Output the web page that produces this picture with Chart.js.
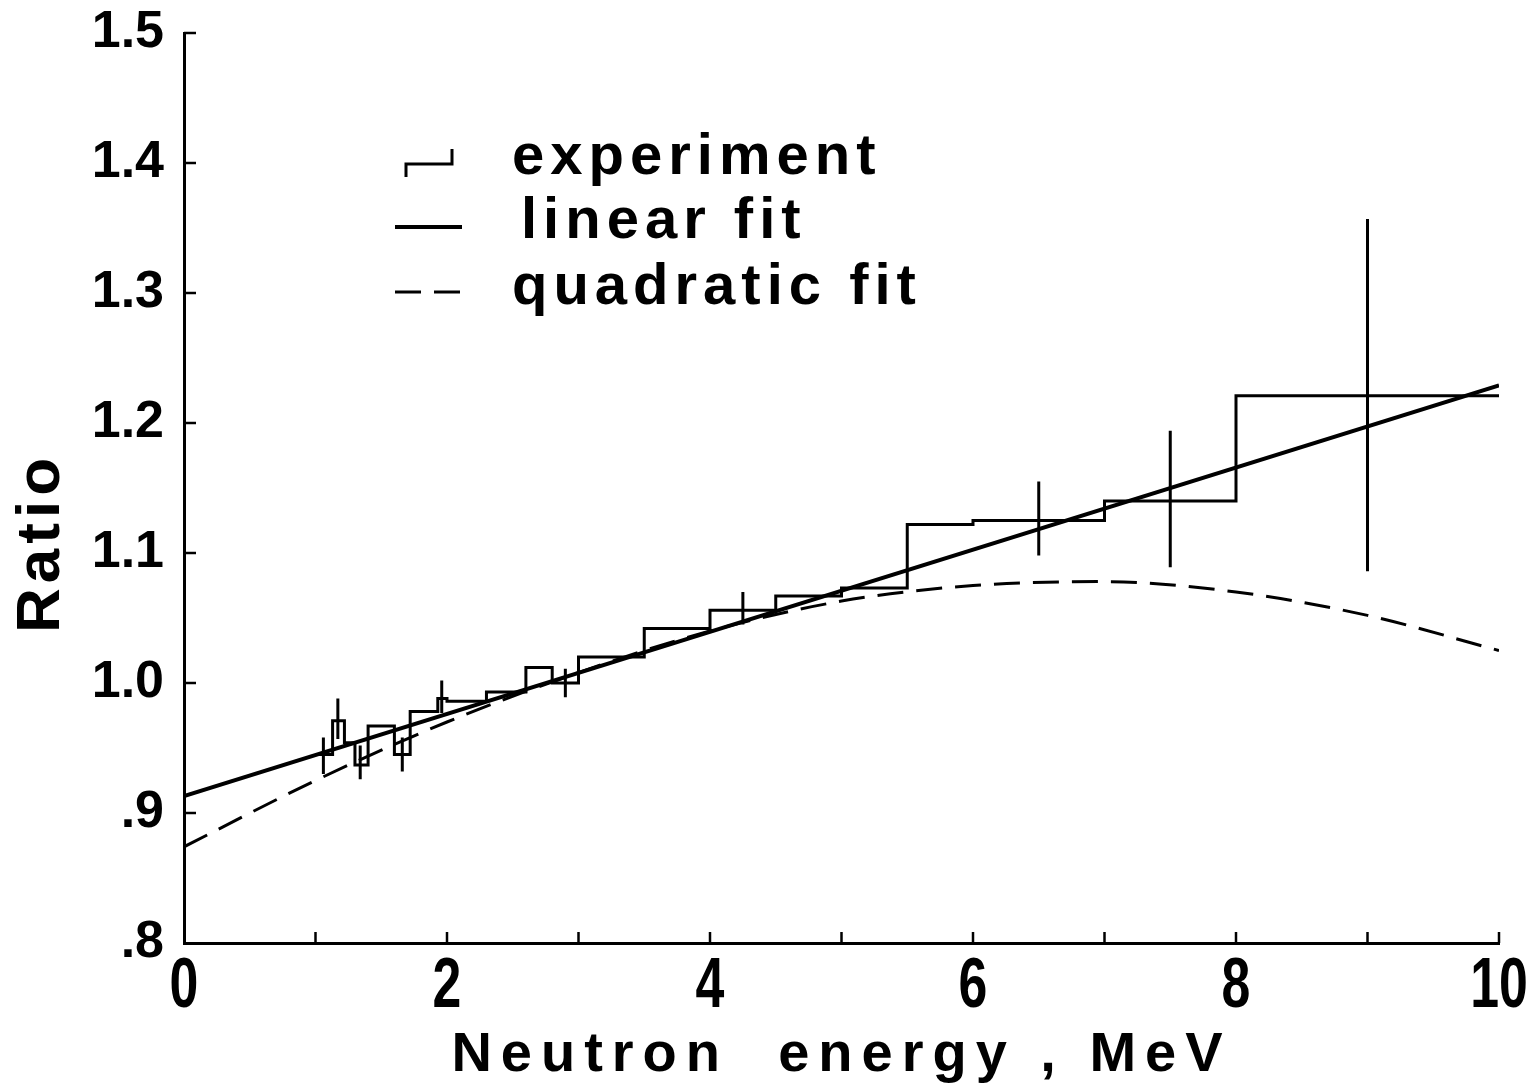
<!DOCTYPE html>
<html>
<head>
<meta charset="utf-8">
<title>Ratio vs neutron energy</title>
<script src="https://cdn.jsdelivr.net/npm/chart.js@4"></script>
<style>
  body { margin: 0; background: #fff; }
  #wrap { width: 1538px; height: 1089px; }
</style>
</head>
<body>
<div id="wrap"><canvas id="ratioChart" width="1538" height="1089"></canvas></div>
<script>
// experiment histogram: bin edges (MeV) and ratio in each bin
const binEdges = [1.0, 1.13, 1.22, 1.30, 1.40, 1.60, 1.72, 1.93, 2.0, 2.3, 2.6, 2.8, 3.0, 3.5, 4.0, 4.5, 5.0, 5.5, 6.0, 7.0, 8.0, 10.0];
const binValues = [0.945, 0.971, 0.954, 0.937, 0.967, 0.945, 0.978, 0.988, 0.986, 0.993, 1.012, 1.000, 1.020, 1.042, 1.056, 1.067, 1.073, 1.122, 1.125, 1.140, 1.221];

// error bars on the experiment
const errEnergy = [1.06, 1.17, 1.34, 1.66, 1.96, 2.9, 4.25, 6.5, 7.5, 9.0];
const errLow = [0.930, 0.957, 0.926, 0.932, 0.977, 0.989, 1.045, 1.098, 1.089, 1.086];
const errHigh = [0.958, 0.988, 0.952, 0.958, 1.002, 1.011, 1.070, 1.155, 1.194, 1.357];

// fits
const linearE = [0, 10];
const linearR = [0.913, 1.229];
const quadE = [0, 1, 2, 3, 4, 5, 6, 7, 8, 9, 10];
const quadR = [0.874, 0.925, 0.970, 1.008, 1.040, 1.063, 1.075, 1.078, 1.070, 1.052, 1.025];

// axis ticks
const xTicks = [0, 2, 4, 6, 8, 10];
const yTickLabels = ['.8', '.9', '1.0', '1.1', '1.2', '1.3', '1.4', '1.5'];

const boldFont = '"Liberation Sans", Arial, Helvetica, sans-serif';

// histogram points, last value repeated at the right edge
const histData = binEdges.map((e, i) => ({ x: e, y: binValues[Math.min(i, binValues.length - 1)] }));

const errData = [];
errEnergy.forEach((e, i) => {
    errData.push({ x: e, y: errLow[i] });
    errData.push({ x: e, y: errHigh[i] });
    errData.push({ x: e, y: null });
});

const linearData = linearE.map((e, i) => ({ x: e, y: linearR[i] }));
const quadData = quadE.map((e, i) => ({ x: e, y: quadR[i] }));

// inward tick marks, narrow x labels, axis titles and the legend box
const decorations = {
    id: 'decorations',
    afterDraw(chart) {
        const ctx = chart.ctx;
        const xs = chart.scales.x;
        const ys = chart.scales.y;
        const area = chart.chartArea;
        ctx.save();
        ctx.strokeStyle = '#000';
        ctx.lineWidth = 2.5;
        for (let v = 1; v <= 10; v++) {
            const px = xs.getPixelForValue(v);
            ctx.beginPath();
            ctx.moveTo(px, area.bottom);
            ctx.lineTo(px, area.bottom - 11);
            ctx.stroke();
        }
        for (let i = 1; i < yTickLabels.length; i++) {
            const py = ys.getPixelForValue(0.8 + i * 0.1);
            ctx.beginPath();
            ctx.moveTo(area.left, py);
            ctx.lineTo(area.left + 12, py);
            ctx.stroke();
        }

        ctx.fillStyle = '#000';
        ctx.textBaseline = 'middle';
        ctx.textAlign = 'center';

        // x tick labels, tall and condensed like the original
        ctx.font = 'bold 70px ' + boldFont;
        xTicks.forEach(v => {
            ctx.save();
            ctx.translate(xs.getPixelForValue(v), area.bottom + 45);
            ctx.scale(0.74, 1);
            ctx.fillText(String(v), 0, 0);
            ctx.restore();
        });

        // x title
        ctx.font = 'bold 56px ' + boldFont;
        ctx.letterSpacing = '9px';
        ctx.fillText('Neutron  energy , MeV', (area.left + area.right) / 2, 1056);

        // y title
        ctx.save();
        ctx.translate(42, 543);
        ctx.rotate(-Math.PI / 2);
        ctx.font = 'bold 62px ' + boldFont;
        ctx.letterSpacing = '5px';
        ctx.fillText('Ratio', 0, 0);
        ctx.restore();

        // legend
        ctx.font = 'bold 58px ' + boldFont;
        ctx.letterSpacing = '6px';
        ctx.textAlign = 'left';
        ctx.fillText('experiment', 512, 158);
        ctx.fillText('linear fit', 521, 222);
        ctx.fillText('quadratic fit', 512, 288);

        ctx.letterSpacing = '0px';
        ctx.lineWidth = 3;
        ctx.beginPath();
        ctx.moveTo(406, 177);
        ctx.lineTo(406, 164);
        ctx.lineTo(452, 164);
        ctx.lineTo(452, 149);
        ctx.stroke();

        ctx.lineWidth = 4;
        ctx.beginPath();
        ctx.moveTo(395, 227);
        ctx.lineTo(462, 227);
        ctx.stroke();

        ctx.lineWidth = 3;
        ctx.setLineDash([26, 13]);
        ctx.beginPath();
        ctx.moveTo(395, 292);
        ctx.lineTo(462, 292);
        ctx.stroke();
        ctx.restore();
    }
};

const ctx = document.getElementById('ratioChart').getContext('2d');
new Chart(ctx, {
    type: 'scatter',
    data: {
        datasets: [
            {
                label: 'experiment',
                data: histData,
                showLine: true,
                stepped: true,
                borderColor: '#000',
                borderWidth: 3,
                pointRadius: 0
            },
            {
                label: 'error',
                data: errData,
                showLine: true,
                spanGaps: false,
                borderColor: '#000',
                borderWidth: 3,
                pointRadius: 0
            },
            {
                label: 'linear fit',
                data: linearData,
                showLine: true,
                borderColor: '#000',
                borderWidth: 4,
                pointRadius: 0
            },
            {
                label: 'quadratic fit',
                data: quadData,
                showLine: true,
                cubicInterpolationMode: 'monotone',
                borderColor: '#000',
                borderWidth: 3,
                borderDash: [26, 13],
                pointRadius: 0
            }
        ]
    },
    options: {
        responsive: false,
        animation: false,
        layout: { padding: { top: 33, right: 39, left: 0, bottom: 0 } },
        plugins: {
            legend: { display: false },
            tooltip: { enabled: false }
        },
        scales: {
            x: {
                type: 'linear',
                min: 0,
                max: 10,
                afterFit: scale => { scale.height = 146; },
                afterBuildTicks: scale => {
                    scale.ticks = xTicks.map(v => ({ value: v }));
                },
                border: { display: true, color: '#000', width: 3 },
                grid: { display: false },
                ticks: { display: false }
            },
            y: {
                type: 'linear',
                min: 0.8,
                max: 1.5,
                afterFit: scale => {
                    scale.width = 184;
                    scale.paddingTop = 0;
                    scale.paddingBottom = 0;
                },
                afterBuildTicks: scale => {
                    scale.ticks = yTickLabels.map((t, i) => ({ value: 0.8 + i * 0.1 }));
                },
                border: { display: true, color: '#000', width: 3 },
                grid: { display: false },
                ticks: {
                    color: '#000',
                    padding: 12,
                    font: { family: boldFont, size: 52, weight: 'bold' },
                    callback: (v, i) => yTickLabels[i]
                }
            }
        }
    },
    plugins: [decorations]
});
</script>
</body>
</html>
